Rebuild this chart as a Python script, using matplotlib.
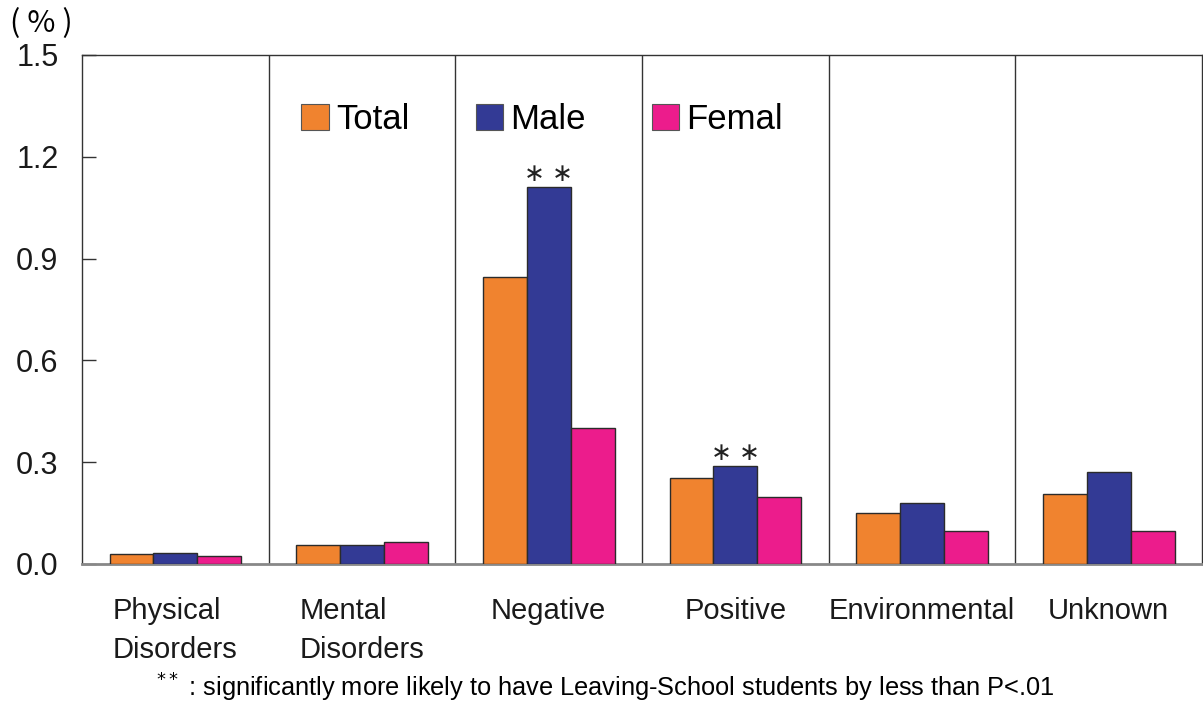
import numpy as np
import matplotlib.pyplot as plt
from matplotlib.patches import Patch

# Leaving-school rates (%) by reason, split by sex
categories = ["Physical\nDisorders", "Mental\nDisorders", "Negative",
              "Positive", "Environmental", "Unknown"]
total  = [0.030, 0.057, 0.846, 0.253, 0.149, 0.206]
male   = [0.032, 0.055, 1.111, 0.289, 0.181, 0.271]
female = [0.025, 0.064, 0.400, 0.197, 0.097, 0.097]
significant = [False, False, True, True, False, False]
yticks = [0.0, 0.3, 0.6, 0.9, 1.2, 1.5]

colors = {"Total": "#F0832F", "Male": "#333A95", "Femal": "#EC1C8C"}

plt.rcParams['font.family'] = ['Liberation Sans', 'Noto Sans CJK JP', 'DejaVu Sans']

fig = plt.figure(figsize=(12.03, 7.02), dpi=100)
ax = fig.add_axes([0.0682, 0.1966, 0.9310, 0.7251])

x = np.arange(len(categories))
w = 0.235
series = [("Total", total, -w), ("Male", male, 0.0), ("Femal", female, w)]
for name, vals, off in series:
    ax.bar(x + off, vals, width=w, color=colors[name], edgecolor="#2b2b2b",
           linewidth=1.0, zorder=3)

# significance marks above the male bars
for i, sig in enumerate(significant):
    if sig:
        ax.text(x[i], male[i] + 0.002, "∗ ∗", ha="center", va="bottom",
                fontsize=18, color="#222222")

# group separators
for b in np.arange(0.5, len(categories) - 1, 1.0):
    ax.axvline(b, color="#333333", linewidth=1.0, zorder=1)

ax.set_xlim(-0.5, len(categories) - 0.5)
ax.set_ylim(0, 1.5)
ax.set_yticks(yticks)
ax.set_yticklabels([f"{v:.1f}" for v in yticks], fontsize=22)
ax.tick_params(axis="y", direction="in", length=10, width=1, pad=17,
               colors="#333333", labelcolor="#1a1a1a")
ax.set_xticks(x)
ax.set_xticklabels(categories, fontsize=21, multialignment="left",
                   linespacing=1.5, color="#1a1a1a")
ax.tick_params(axis="x", length=0, pad=24)

for side in ["top", "left", "right"]:
    ax.spines[side].set_color("#333333")
    ax.spines[side].set_linewidth(1.0)
ax.spines["bottom"].set_color("#888888")
ax.spines["bottom"].set_linewidth(2.0)

handles = [Patch(facecolor=colors[n], edgecolor="#555555", linewidth=0.8)
           for n, _, _ in series]
ax.legend(handles, [n for n, _, _ in series], ncol=3, frameon=False,
          fontsize=25, handlelength=0.8, handleheight=0.8, handletextpad=0.2,
          columnspacing=1.9, loc="upper left", bbox_to_anchor=(0.168, 0.967))

# unit label
fig.text(0.008, 0.966, "( % )", fontsize=22, ha="left", va="center",
         family=["Noto Sans CJK JP", "DejaVu Sans"])
fig.text(0.13, 0.02, "$^{**}$ : significantly more likely to have Leaving-School "
         "students by less than P<.01", fontsize=18.3, ha="left", va="center")

fig.savefig("out.png", dpi=100)
